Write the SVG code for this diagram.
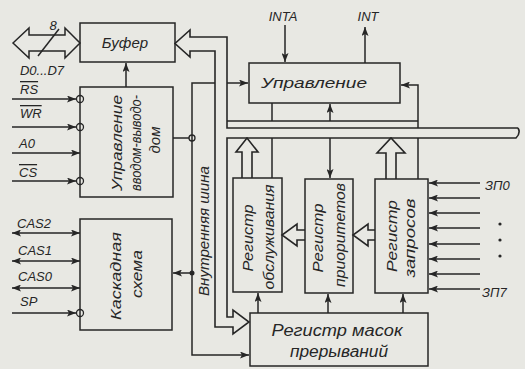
<svg xmlns="http://www.w3.org/2000/svg" width="525" height="369" viewBox="0 0 525 369">
<style>
.l{fill:none;stroke:#262626;stroke-width:1.5}
.b{fill:none;stroke:#262626;stroke-width:1.6}
.t{font-family:"Liberation Sans",sans-serif;font-style:italic;font-size:13px;fill:#262626}
.m{font-size:15px}
.ov{text-decoration:overline}
.c{fill:#e8e8e3;stroke:#262626;stroke-width:1.3}
</style>
<defs>
<marker id="a" viewBox="0 0 9 7" refX="9" refY="3.5" markerWidth="9" markerHeight="7" markerUnits="userSpaceOnUse" orient="auto-start-reverse">
<path d="M0,0 L9,3.5 L0,7 L2,3.5 z" fill="#262626"/>
</marker>
</defs>
<rect width="525" height="369" fill="#e8e8e3"/>

<g id="connectors">
<!-- data bus D0..D7 -->
<path class="l" d="M13,43 L29,28 V35 H65 V28 L80,43 L65,58 V51 H29 V58 Z"/>
<path class="l" d="M38,56 L59,29"/>
<!-- control inputs -->
<path class="l" d="M12,99 H76" marker-end="url(#a)"/>
<path class="l" d="M12,127 H76" marker-end="url(#a)"/>
<path class="l" d="M12,153 H80" marker-end="url(#a)"/>
<path class="l" d="M12,181 H76" marker-end="url(#a)"/>
<!-- cascade lines -->
<path class="l" d="M12,233 H80" marker-start="url(#a)" marker-end="url(#a)"/>
<path class="l" d="M12,261 H80" marker-start="url(#a)" marker-end="url(#a)"/>
<path class="l" d="M12,288 H80" marker-start="url(#a)" marker-end="url(#a)"/>
<path class="l" d="M12,313 H76" marker-end="url(#a)"/>
<circle class="c" cx="80" cy="99" r="3.5"/>
<circle class="c" cx="80" cy="127" r="3.5"/>
<circle class="c" cx="80" cy="181" r="3.5"/>
<circle class="c" cx="80" cy="313" r="3.5"/>
<!-- control io to buffer -->
<path class="l" d="M126,87 V63" marker-end="url(#a)"/>
<!-- control io to bus -->
<path class="l" d="M173,138 H189"/>
<circle class="c" cx="192" cy="138" r="3"/>
<!-- cascade to bus -->
<path class="l" d="M192,273 H173" marker-end="url(#a)"/>
<circle cx="192" cy="273" r="2.5" fill="#262626"/>
<!-- single internal line -->
<path class="l" d="M215,83 H192 V355 H249" marker-end="url(#a)"/>
<path class="l" d="M227,83 H248" marker-end="url(#a)"/>
<!-- wide internal bus -->
<path class="b" d="M518,128 H227 V37 H190 V30 L175,43.5 L190,57 V51 H215 V327 H233 V334 L249,322 L233,310 V317 H227 V138 H516 Q521,133 518,128"/>
<!-- hollow arrows from registers -->
<path class="b" d="M242,178 V152 H236 L247,138 L258,152 H252 V178"/>
<path class="b" d="M386,179 V153 H377 L391,138 L405,153 H396 V179"/>
<path class="b" d="M305,230 H297 V224 L282,235 L297,246 V240 H305"/>
<path class="b" d="M375,230 H368 V224 L353,235 L368,246 V240 H375"/>
<!-- lines around Управление -->
<path class="l" d="M227,121 H418"/>
<path class="l" d="M418,128 V85 H401" marker-end="url(#a)"/>
<path class="l" d="M272,103 V121"/>
<path class="l" d="M272,138 V178"/>
<path class="l" d="M330,121 V104" marker-end="url(#a)"/>
<path class="l" d="M330,138 V178" marker-end="url(#a)"/>
<path class="l" d="M418,138 V179"/>
<!-- INTA / INT -->
<path class="l" d="M285,25 V62" marker-end="url(#a)"/>
<path class="l" d="M365,63 V27" marker-end="url(#a)"/>
<!-- mask register to registers -->
<path class="l" d="M258,313 V293" marker-end="url(#a)"/>
<path class="l" d="M328,313 V294" marker-end="url(#a)"/>
<path class="l" d="M403,313 V294" marker-end="url(#a)"/>
<!-- interrupt request inputs -->
<path class="l" d="M480,183 H429" marker-end="url(#a)"/>
<path class="l" d="M480,198 H429" marker-end="url(#a)"/>
<path class="l" d="M480,213 H429" marker-end="url(#a)"/>
<path class="l" d="M480,228 H429" marker-end="url(#a)"/>
<path class="l" d="M480,244 H429" marker-end="url(#a)"/>
<path class="l" d="M480,259 H429" marker-end="url(#a)"/>
<path class="l" d="M480,274 H429" marker-end="url(#a)"/>
<path class="l" d="M480,289 H429" marker-end="url(#a)"/>
<circle cx="500" cy="224" r="1.6" fill="#262626"/>
<circle cx="500" cy="240" r="1.6" fill="#262626"/>
<circle cx="500" cy="256" r="1.6" fill="#262626"/>
</g>

<g id="labels">
<text class="t" x="53" y="30" text-anchor="middle">8</text>
<text class="t" x="42" y="75" text-anchor="middle">D0...D7</text>
<text class="t ov" x="20" y="94">RS</text>
<text class="t ov" x="20" y="118">WR</text>
<text class="t" x="19" y="148">A0</text>
<text class="t ov" x="19" y="177">CS</text>
<text class="t" x="17" y="228">CAS2</text>
<text class="t" x="18" y="255">CAS1</text>
<text class="t" x="18" y="281">CAS0</text>
<text class="t" x="20" y="306">SP</text>
<text class="t" x="283" y="21" text-anchor="middle">INTA</text>
<text class="t" x="368" y="21" text-anchor="middle">INT</text>
<text class="t" x="485" y="190">ЗП0</text>
<text class="t" x="482" y="297">ЗП7</text>
<text class="t m" transform="translate(209,231) rotate(-90)" text-anchor="middle" textLength="130" lengthAdjust="spacingAndGlyphs">Внутренняя шина</text>
</g>

<g id="buffer">
<rect class="l" x="80" y="23" width="95" height="39"/>
<text class="t m" x="125" y="48" text-anchor="middle">Буфер</text>
</g>

<g id="ctrl-io">
<rect class="l" x="80" y="87" width="93" height="110"/>
<text class="t m" transform="translate(122,143) rotate(-90)" text-anchor="middle" textLength="96" lengthAdjust="spacingAndGlyphs">Управление</text>
<text class="t m" transform="translate(141,143) rotate(-90)" text-anchor="middle" textLength="96" lengthAdjust="spacingAndGlyphs">вводом-выводо-</text>
<text class="t m" transform="translate(160,140) rotate(-90)" text-anchor="middle">дом</text>
</g>

<g id="cascade">
<rect class="l" x="80" y="219" width="92" height="111"/>
<text class="t m" transform="translate(121,276) rotate(-90)" text-anchor="middle" textLength="88" lengthAdjust="spacingAndGlyphs">Каскадная</text>
<text class="t m" transform="translate(142,274) rotate(-90)" text-anchor="middle" textLength="48" lengthAdjust="spacingAndGlyphs">схема</text>
</g>

<g id="control">
<rect class="l" x="249" y="63" width="151" height="40"/>
<text class="t m" x="314" y="88" text-anchor="middle" textLength="106" lengthAdjust="spacingAndGlyphs">Управление</text>
</g>

<g id="isr">
<rect class="l" x="233" y="178" width="49" height="114"/>
<text class="t m" transform="translate(253,238) rotate(-90)" text-anchor="middle" textLength="67" lengthAdjust="spacingAndGlyphs">Регистр</text>
<text class="t m" transform="translate(274,237) rotate(-90)" text-anchor="middle" textLength="105" lengthAdjust="spacingAndGlyphs">обслуживания</text>
</g>

<g id="pr">
<rect class="l" x="305" y="179" width="48" height="114"/>
<text class="t m" transform="translate(323,238) rotate(-90)" text-anchor="middle" textLength="69" lengthAdjust="spacingAndGlyphs">Регистр</text>
<text class="t m" transform="translate(345,235) rotate(-90)" text-anchor="middle" textLength="104" lengthAdjust="spacingAndGlyphs">приоритетов</text>
</g>

<g id="irr">
<rect class="l" x="375" y="179" width="53" height="114"/>
<text class="t m" transform="translate(397,236) rotate(-90)" text-anchor="middle" textLength="72" lengthAdjust="spacingAndGlyphs">Регистр</text>
<text class="t m" transform="translate(415,238) rotate(-90)" text-anchor="middle" textLength="79" lengthAdjust="spacingAndGlyphs">запросов</text>
</g>

<g id="imr">
<rect class="l" x="250" y="313" width="178" height="53"/>
<text class="t" style="font-size:16px" x="337" y="336" text-anchor="middle" textLength="131" lengthAdjust="spacingAndGlyphs">Регистр масок</text>
<text class="t" style="font-size:16px" x="339" y="357" text-anchor="middle" textLength="98" lengthAdjust="spacingAndGlyphs">прерываний</text>
</g>
</svg>
